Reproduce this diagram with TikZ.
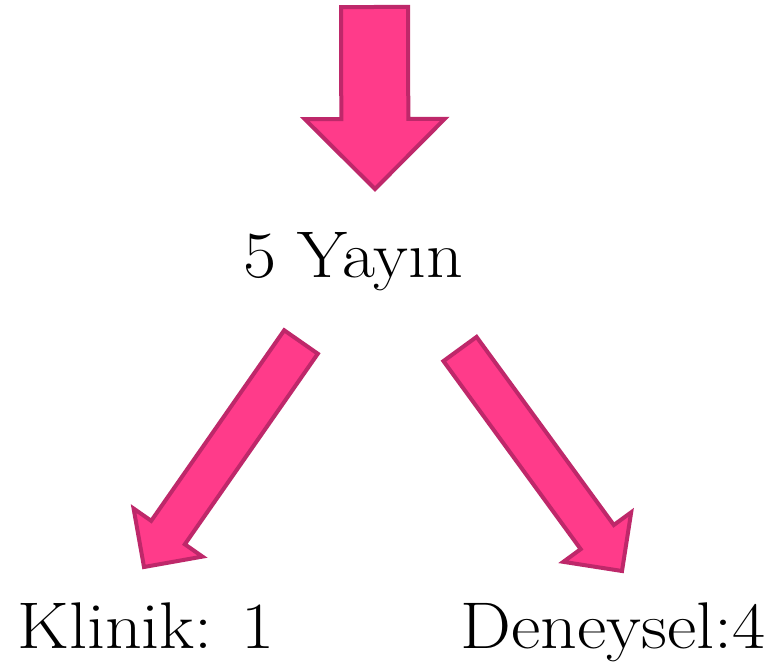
\documentclass[tikz,border=0pt]{standalone}
\usepackage{fontspec}
\usetikzlibrary{calc}

\definecolor{okdolgu}{RGB}{255,59,138}
\definecolor{okcizgi}{RGB}{190,40,106}

% #1 kuyruk, #2 uc, #3 govde yari genislik, #4 bas yari genislik, #5 bas boyu
\newcommand\blokok[5]{%
  \filldraw[okstil] let \p1=($(#2)-(#1)$), \n1={atan2(\y1,\x1)} in
    ($(#1)+(\n1+90:#3)$) -- ($(#2)+(\n1+180:#5)+(\n1+90:#3)$)
    -- ($(#2)+(\n1+180:#5)+(\n1+90:#4)$) -- (#2)
    -- ($(#2)+(\n1+180:#5)+(\n1-90:#4)$) -- ($(#2)+(\n1+180:#5)+(\n1-90:#3)$)
    -- ($(#1)+(\n1-90:#3)$) -- cycle;}

\begin{document}
\begin{tikzpicture}[x=1pt,y=1pt,
    okstil/.style={fill=okdolgu,draw=okcizgi,line width=4pt,line join=miter},
    yazi/.style={anchor=base,inner sep=0pt,xscale=1.09,transform shape,
      font=\fontsize{66}{70}\selectfont}]
  \useasboundingbox (0,0) rectangle (781,-666);

  \node[yazi] (yayin) at (353,-277) {5 Yayın};
  \node[yazi] (klinik) at (146,-648) {Klinik: 1};
  \node[yazi] (deneysel) at (613,-648) {Deneysel:4};

  \coordinate (ust) at (374.5,-7);
  \coordinate (yayin-ust) at (375,-189);
  \coordinate (yayin-sol) at (301,-342);
  \coordinate (klinik-ust) at (144,-567);
  \coordinate (yayin-sag) at (460,-349);
  \coordinate (deneysel-ust) at (622,-571);

  \blokok{ust}{yayin-ust}{33.5pt}{70pt}{70pt}
  \blokok{yayin-sol}{klinik-ust}{20.5pt}{42pt}{42pt}
  \blokok{yayin-sag}{deneysel-ust}{20.5pt}{42pt}{42pt}
\end{tikzpicture}
\end{document}
